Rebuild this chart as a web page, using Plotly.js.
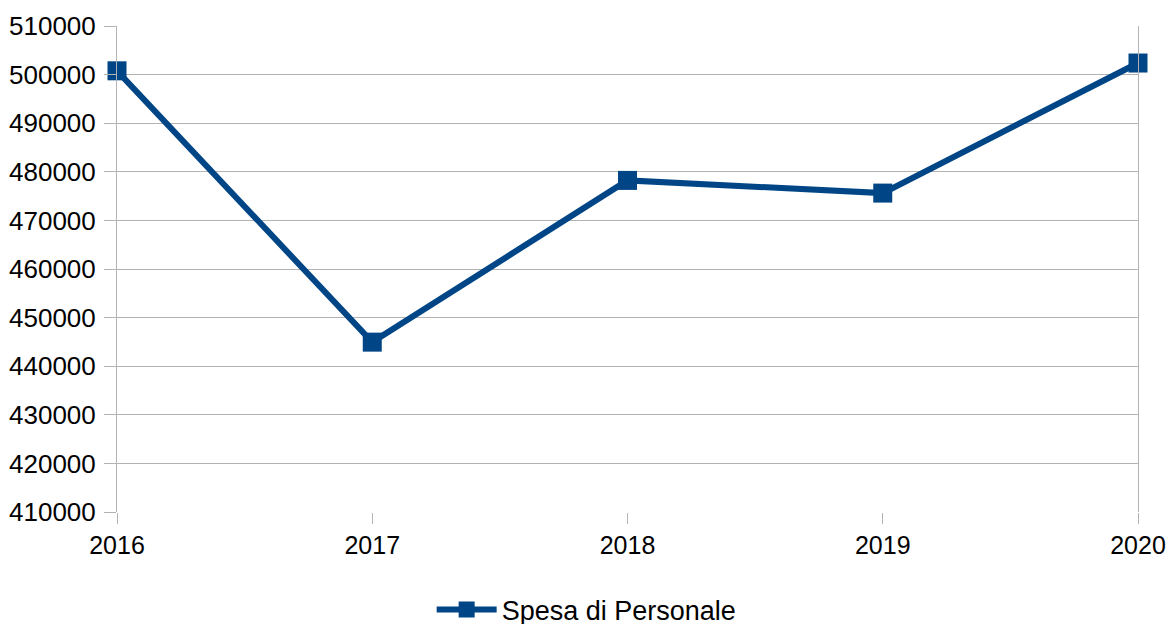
<!DOCTYPE html>
<html>
<head>
<meta charset="utf-8">
<script src="https://cdn.plot.ly/plotly-3.0.1.min.js"></script>
<style>html,body{margin:0;padding:0;background:#fff;}#chart{width:1166px;height:624px;}</style>
</head>
<body>
<div id="chart"></div>
<script>
const years = [2016, 2017, 2018, 2019, 2020];
const spesaPersonale = [500780, 444950, 478230, 475620, 502380];
const seriesName = "Spesa di Personale";

const trace = {
  x: years,
  y: spesaPersonale,
  name: seriesName,
  type: "scatter",
  mode: "lines+markers",
  line: {color: "#004586", width: 6},
  marker: {symbol: "square", size: 19, color: "#004586"},
  cliponaxis: false,
  showlegend: true
};

const layout = {
  width: 1166,
  height: 624,
  margin: {l: 117, r: 28, t: 26, b: 112, autoexpand: false},
  paper_bgcolor: "#ffffff",
  plot_bgcolor: "#ffffff",
  font: {family: "Liberation Sans, Arial, sans-serif", size: 26, color: "#000000"},
  showlegend: true,
  xaxis: {
    range: [2016, 2020],
    tickmode: "array",
    tickvals: years,
    ticktext: years.map(String),
    showgrid: false,
    zeroline: false,
    showline: false,
    ticks: "outside",
    ticklen: 11,
    tickcolor: "#b3b3b3",
    tickwidth: 1,
    tickfont: {size: 25},
    ticklabeloverflow: "allow",
    automargin: false
  },
  yaxis: {
    range: [410000, 510000],
    dtick: 10000,
    tick0: 410000,
    tickformat: "d",
    showgrid: true,
    gridcolor: "#b3b3b3",
    gridwidth: 1,
    zeroline: false,
    showline: true,
    mirror: true,
    linecolor: "#b3b3b3",
    linewidth: 1,
    ticks: "outside",
    ticklen: 12,
    tickcolor: "#b3b3b3",
    tickwidth: 1,
    ticklabelstandoff: 3,
    tickfont: {size: 26},
    automargin: false
  },
  legend: {
    orientation: "h",
    x: 0.46,
    xanchor: "center",
    y: -0.2016,
    yanchor: "middle",
    itemwidth: 60,
    font: {size: 27}
  }
};

Plotly.newPlot("chart", [trace], layout, {displayModeBar: false, staticPlot: true});
</script>
</body>
</html>
